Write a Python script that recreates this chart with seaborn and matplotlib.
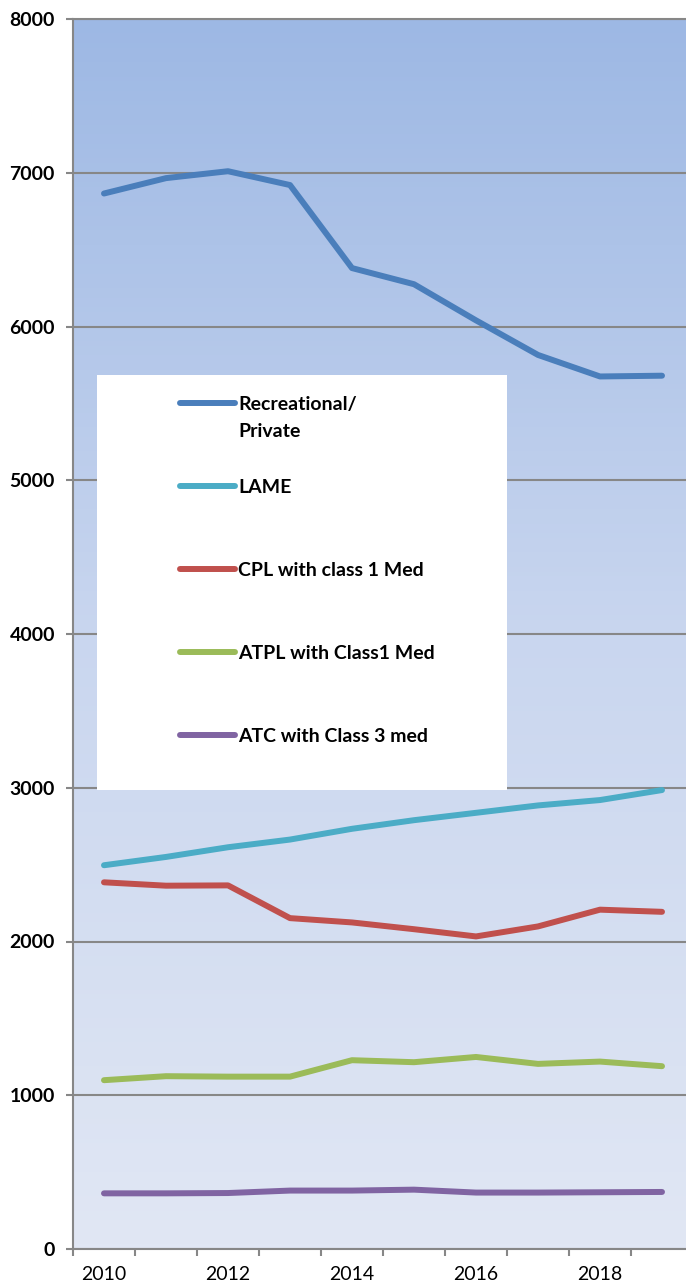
import numpy as np
import pandas as pd
import matplotlib
matplotlib.use("Agg")
import matplotlib.pyplot as plt
import seaborn as sns
from matplotlib.lines import Line2D
from matplotlib.patches import Rectangle
from matplotlib.colors import LinearSegmentedColormap

# Medical certificate holders per year, by licence category
years = list(range(2010, 2020))
recreational = [6865, 6965, 7010, 6920, 6380, 6275, 6040, 5815, 5675, 5680]
lame = [2496, 2550, 2613, 2663, 2733, 2789, 2837, 2885, 2920, 2985]
cpl = [2385, 2363, 2365, 2152, 2124, 2080, 2033, 2098, 2207, 2193]
atpl = [1098, 1124, 1121, 1121, 1228, 1215, 1249, 1204, 1219, 1189]
atc = [362, 362, 364, 380, 380, 386, 367, 367, 369, 371]

series_names = ["Recreational/\nPrivate", "LAME", "CPL with class 1 Med",
                "ATPL with Class1 Med", "ATC with Class 3 med"]
series_values = [recreational, lame, cpl, atpl, atc]
colors = ["#4A7EBB", "#4BACC6", "#C0504D", "#9BBB59", "#8064A2"]
x_labels = ["2010", "2012", "2014", "2016", "2018"]
y_ticks = list(range(0, 8001, 1000))

df = pd.DataFrame({
    "year": years * len(series_names),
    "count": [v for vals in series_values for v in vals],
    "series": [n for n in series_names for _ in years],
})

sns.set_theme(style="white")
plt.rcParams["font.family"] = ["Lato", "DejaVu Sans"]

W, H = 686, 1288
fig = plt.figure(figsize=(W / 100, H / 100), dpi=100)
fig.patch.set_facecolor("white")
ax = fig.add_axes([73 / W, 1 - 1249 / H, 620 / W, 1230 / H])

# vertical gradient fill of the plot area
grad_cmap = LinearSegmentedColormap.from_list(
    "bg", ["#E1E7F4", "#C9D6EF", "#9DB8E4"])
grad = np.linspace(0, 1, 256).reshape(-1, 1)
ax.imshow(grad, extent=[0, 1, 0, 1], transform=ax.transAxes, origin="lower",
          aspect="auto", cmap=grad_cmap, zorder=0)

sns.lineplot(data=df, x="year", y="count", hue="series", hue_order=series_names,
             palette=colors, linewidth=4.3, legend=False, sort=False, ax=ax)
for ln in ax.lines:
    ln.set_solid_capstyle("round")
    ln.set_solid_joinstyle("round")
    ln.set_zorder(3)

ax.set_xlim(2009.5, 2019.5)
ax.set_ylim(0, 8000)
ax.set_xlabel("")
ax.set_ylabel("")

ax.set_yticks(y_ticks)
ax.set_yticklabels([str(t) for t in y_ticks], fontsize=14, fontweight="bold",
                   color="black")
ax.set_xticks(np.arange(2009.5, 2019.0, 1.0))
ax.set_xticklabels([])
ax.set_xticks([int(s) for s in x_labels], minor=True)
ax.set_xticklabels(x_labels, minor=True, fontsize=14, color="black")

ax.tick_params(axis="y", which="major", left=True, length=5, width=1.5,
               color="#878787", pad=8)
ax.tick_params(axis="x", which="major", bottom=True, length=5, width=1.5,
               color="#878787")
ax.tick_params(axis="x", which="minor", bottom=True, length=0, pad=12)

ax.grid(axis="y", color="#878787", linewidth=1.5, zorder=1)
ax.grid(axis="x", visible=False)
for side in ["left", "bottom", "top", "right"]:
    ax.spines[side].set_color("#878787")
    ax.spines[side].set_linewidth(1.5)

# legend panel
fig.add_artist(Rectangle((97 / W, 1 - 790 / H), 410 / W, 415 / H,
                         transform=fig.transFigure, facecolor="white",
                         edgecolor="none", zorder=4))
entry_y = [403, 486, 569, 652, 735]
for name, col, yy in zip(series_names, colors, entry_y):
    fy = 1 - yy / H
    fig.add_artist(Line2D([180 / W, 235 / W], [fy, fy], transform=fig.transFigure,
                          color=col, linewidth=4.3, solid_capstyle="round",
                          zorder=5))
    if "\n" in name:
        fig.text(238 / W, 1 - (yy - 7) / H, name, ha="left", va="top",
                 fontsize=14, fontweight="bold", color="black", zorder=6,
                 linespacing=1.68)
    else:
        fig.text(238 / W, fy, name, ha="left", va="center_baseline", fontsize=14,
                 fontweight="bold", color="black", zorder=6)

fig.savefig("out.png", dpi=100)
